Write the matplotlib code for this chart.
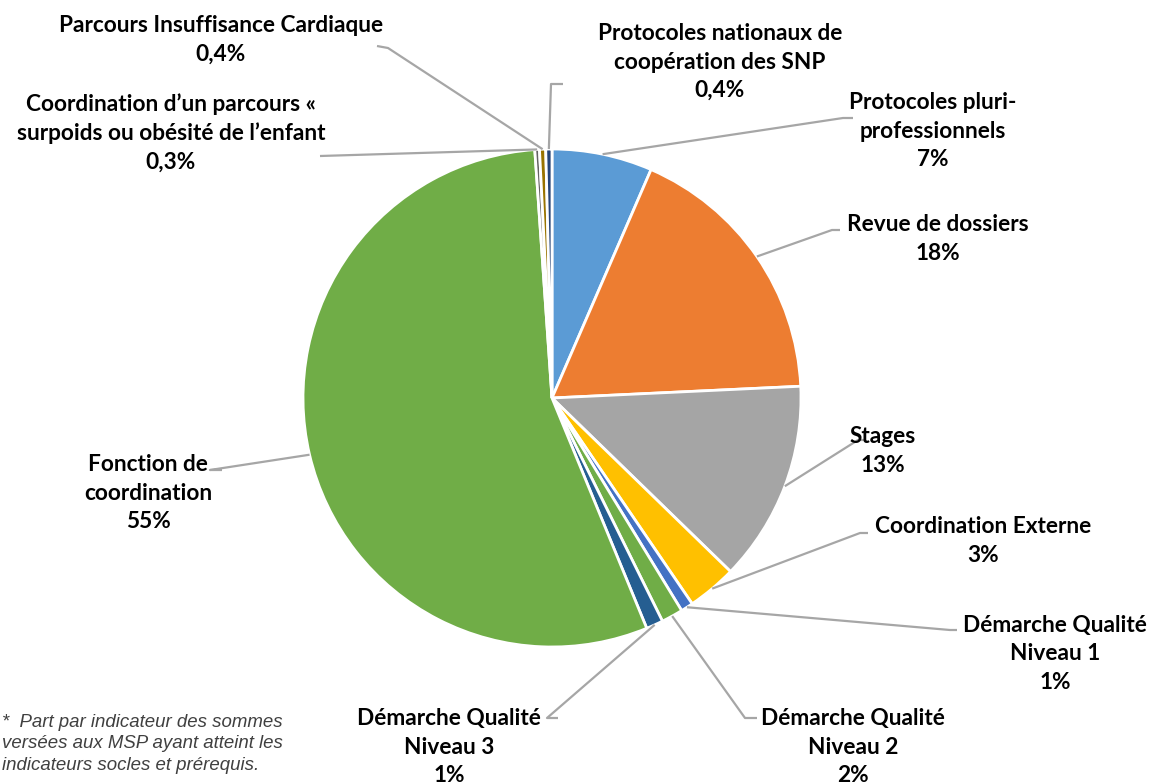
import numpy as np
import matplotlib.pyplot as plt

# data, clockwise from the top
labels = ["Protocoles pluri-\nprofessionnels\n7%",
          "Revue de dossiers\n18%",
          "Stages\n13%",
          "Coordination Externe\n3%",
          "Démarche Qualité\nNiveau 1\n1%",
          "Démarche Qualité\nNiveau 2\n2%",
          "Démarche Qualité\nNiveau 3\n1%",
          "Fonction de\ncoordination\n55%",
          "Coordination d\u2019un parcours «\nsurpoids ou obésité de l\u2019enfant\n0,3%",
          "Parcours Insuffisance Cardiaque\n0,4%",
          "Protocoles nationaux de\ncoopération des SNP\n0,4%"]
shares = [6.5, 17.7, 13.0, 3.2, 0.8, 1.4, 1.1, 55.0, 0.3, 0.4, 0.4]
colors = ["#5B9BD5", "#ED7D31", "#A5A5A5", "#FFC000", "#4472C4", "#70AD47",
          "#255E91", "#70AD47", "#636363", "#997300", "#264478"]

W, H = 1151, 784
def Y(y):
    return H - y

# label centre (image px) and leader knee points (text side)
txt_pos = [(933, 131), (938, 239), (883, 451), (983, 541), (1055, 654),
           (853, 747), (449, 747), (148, 493), (171, 133), (221, 40), (720, 62)]
knees = [[(853, 118), (843, 118)],
         [(840, 230), (832, 230)],
         [(866, 440), (858, 440)],
         [(868, 533), (860, 533)],
         [(957, 630), (950, 630)],
         [(757, 718), (745, 718)],
         [(558, 718), (547, 718)],
         [(222, 470), (210, 470)],
         [(320, 156)],
         [(377, 46), (388, 48)],
         [(563, 84), (551, 84)]]

fig = plt.figure(figsize=(W / 100, H / 100), dpi=100)
ax = fig.add_axes([0, 0, 1, 1])
cx, cy, r = 552, Y(398), 249
wedges, _ = ax.pie(shares, colors=colors, startangle=90, counterclock=False,
                   center=(cx, cy), radius=r,
                   wedgeprops=dict(edgecolor="white", linewidth=2))
ax.set_xlim(0, W)
ax.set_ylim(0, H)
ax.set_aspect("equal")
ax.axis("off")

for w, lab, (tx, ty), kn in zip(wedges, labels, txt_pos, knees):
    mid = np.deg2rad((w.theta1 + w.theta2) / 2)
    px, py = cx + r * np.cos(mid), cy + r * np.sin(mid)
    xs = [k[0] for k in kn] + [px]
    ys = [Y(k[1]) for k in kn] + [py]
    ax.plot(xs, ys, color="#A6A6A6", lw=1.6, solid_capstyle="butt")
    ax.text(tx, Y(ty), lab, ha="center", va="center", fontsize=16.3,
            fontweight="bold", family="Lato", color="#000000",
            linespacing=1.45)

ax.text(2, Y(744), "*  Part par indicateur des sommes\nversées aux MSP ayant atteint les\nindicateurs socles et prérequis.",
        ha="left", va="center", fontsize=13.4, style="italic",
        family="Liberation Sans", color="#404040", linespacing=1.38)

fig.savefig("out.png", dpi=100)
